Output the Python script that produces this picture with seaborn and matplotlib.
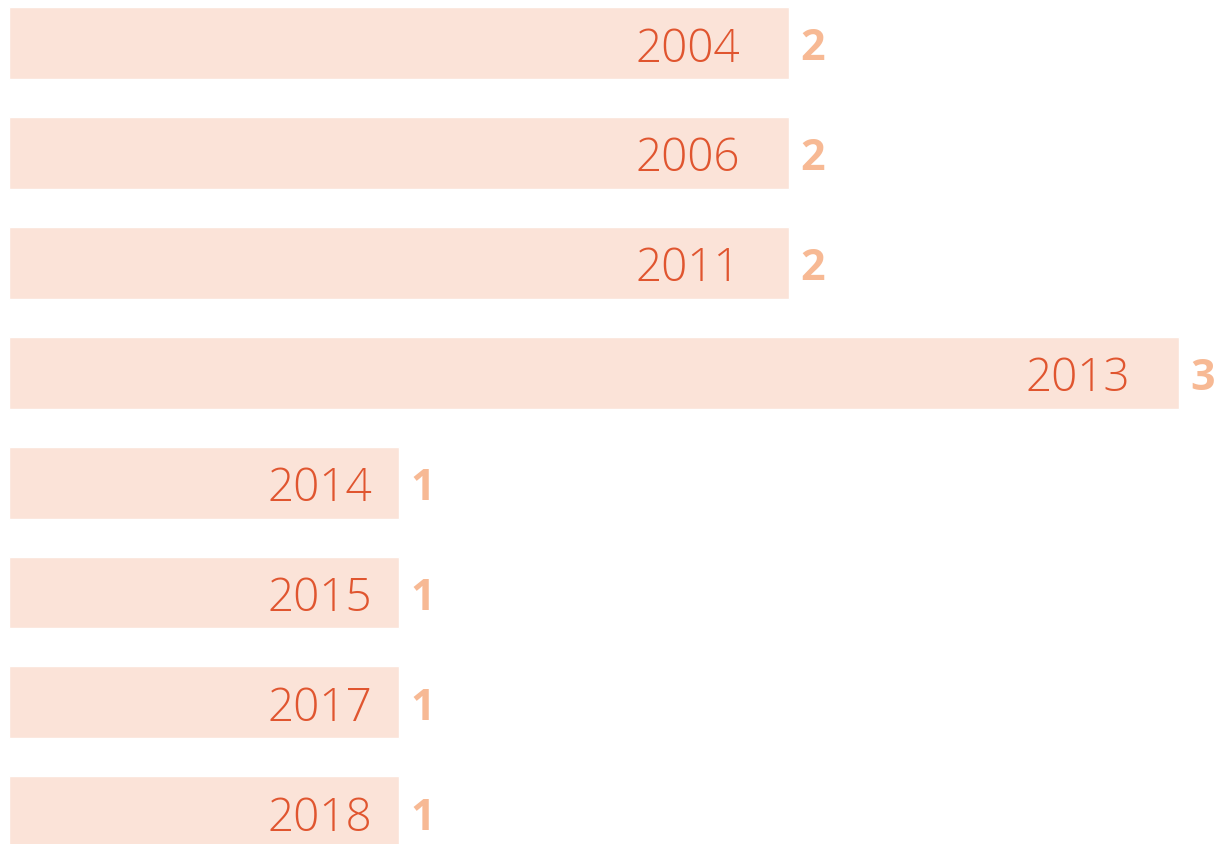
import matplotlib
matplotlib.use("Agg")
import matplotlib.pyplot as plt
from matplotlib.transforms import offset_copy
import seaborn as sns

years = ["2004", "2006", "2011", "2013", "2014", "2015", "2017", "2018"]
counts = [2, 2, 2, 3, 1, 1, 1, 1]

BAR_COLOR = "#FBE3D8"
YEAR_COLOR = "#E0552F"
VALUE_COLOR = "#F7B994"

sns.set_theme(style="white")
plt.rcParams["font.family"] = ["Open Sans", "DejaVu Sans"]

fig = plt.figure(figsize=(12.19, 8.45), dpi=100)
ax = fig.add_axes([0, 0, 1, 1])

sns.barplot(x=counts, y=years, orient="h", color=BAR_COLOR, saturation=1,
            width=0.655, ax=ax)

unit_px = 390.0
ax.set_xlim(-9 / unit_px, (1219 - 9) / unit_px)
step_px = 109.9
ax.set_ylim((845 - 44) / step_px, -44 / step_px)

for i, (yr, c) in enumerate(zip(years, counts)):
    # year label sits inside the bar, near its end
    inner = -131 if c == 1 else -153
    t_in = offset_copy(ax.transData, fig=fig, x=inner, y=0, units="dots")
    ax.text(c, i, yr, transform=t_in, ha="left", va="center_baseline",
            fontsize=33, fontweight="light", color=YEAR_COLOR)
    # count just past the bar end
    t_out = offset_copy(ax.transData, fig=fig, x=11, y=0, units="dots")
    ax.text(c, i, str(c), transform=t_out, ha="left", va="center_baseline",
            fontsize=31, fontweight="bold", color=VALUE_COLOR)

ax.set_axis_off()
fig.savefig("out.png", dpi=100)
